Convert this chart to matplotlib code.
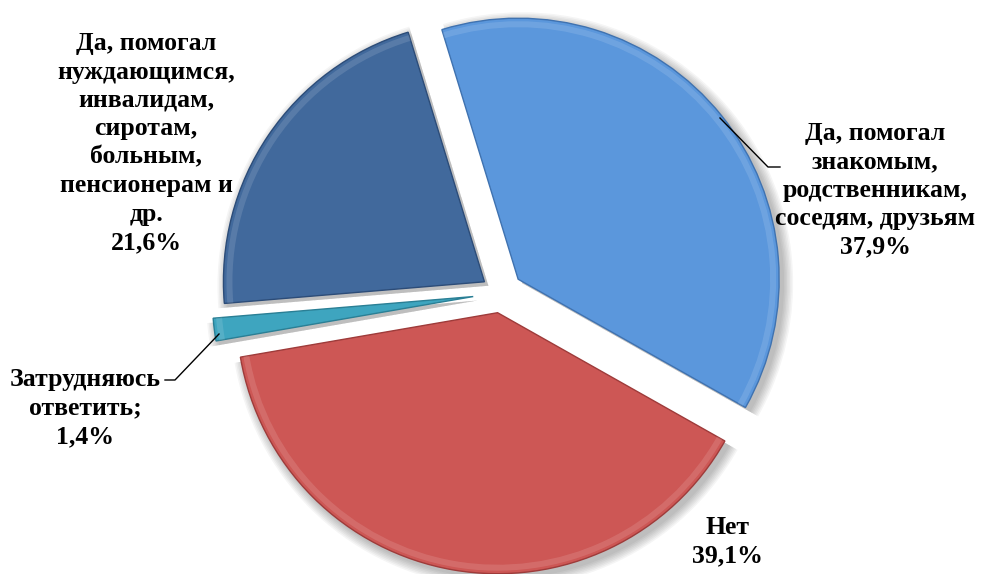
import matplotlib
matplotlib.use("Agg")
import matplotlib.pyplot as plt
from matplotlib.patches import Wedge
import numpy as np

# data (clockwise from the top)
labels = ["Да, помогал\nзнакомым,\nродственникам,\nсоседям, друзьям",
          "Нет",
          "Затрудняюсь\nответить;",
          "Да, помогал\nнуждающимся,\nинвалидам,\nсиротам,\nбольным,\nпенсионерам и\nдр."]
pct_text = ["37,9%", "39,1%", "1,4%", "21,6%"]
values = [37.9, 39.1, 1.4, 21.6]
colors = ["#5b97dc", "#cd5755", "#3ea5bf", "#41699c"]
edges = ["#3f72b0", "#9e3b3a", "#2a7f95", "#2c4c78"]
explode = [22, 20, 28, 20]  # pixels

W, H = 983, 574
fig = plt.figure(figsize=(W / 100, H / 100), dpi=100)
ax = fig.add_axes([0, 0, 1, 1])

cx, cy, R = 501, H - 293, 261
wedges, _ = ax.pie(values, colors=colors, explode=explode, startangle=107,
                   counterclock=False, center=(cx, cy), radius=R,
                   wedgeprops=dict(linewidth=1.0))

# soft shadow behind every slice
for w, ec in zip(wedges, edges):
    w.set_edgecolor(ec)
    w.set_zorder(5)
    for k in range(7):
        sh = Wedge((w.center[0] + 4, w.center[1] - 4), w.r + 1 + k * 1.5,
                   w.theta1, w.theta2, facecolor="black", edgecolor="none",
                   alpha=0.04, zorder=2)
        ax.add_patch(sh)
    # light bevel rim
    rim = Wedge(w.center, w.r - 3, w.theta1, w.theta2, width=6,
                facecolor="white", edgecolor="none", alpha=0.12, zorder=6)
    ax.add_patch(rim)

ax.set_xlim(0, W)
ax.set_ylim(0, H)
ax.set_aspect("equal")
ax.axis("off")

font = dict(family="Liberation Serif", fontsize=18.5, fontweight="bold",
            ha="center", va="center", linespacing=1.3, color="black")

txt_pos = [(875, 190), (727, 542), (85, 408), (146, 143)]
for lab, p, (x, y) in zip(labels, pct_text, txt_pos):
    ax.text(x, H - y, lab + "\n" + p, zorder=10, **font)

# leader lines
ax.plot([720, 768, 780], [H - 118, H - 167, H - 167], color="black", lw=1,
        zorder=10)
ax.plot([219, 175, 165], [H - 334, H - 380, H - 380], color="black", lw=1,
        zorder=10)

fig.savefig("out.png", dpi=100)
